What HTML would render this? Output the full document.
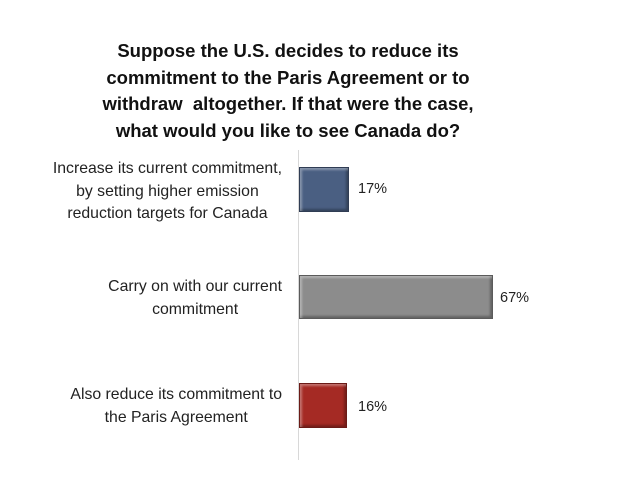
<!DOCTYPE html>
<html><head><style>
body{margin:0;width:620px;height:482px;background:#fff;font-family:"Liberation Sans",sans-serif;position:relative;overflow:hidden}
.t{position:absolute;left:38px;width:500px;top:38px;text-align:center;font-weight:bold;font-size:18.5px;line-height:26.5px;color:#111}
.l{position:absolute;right:338px;text-align:center;font-size:15.8px;line-height:22.5px;color:#222;white-space:nowrap}
.b{position:absolute;left:299px;box-sizing:border-box;border:1px solid rgba(0,0,0,.35);box-shadow:inset 2px 2px 2px rgba(255,255,255,.35),inset -2px -2px 2px rgba(0,0,0,.3)}
.v{position:absolute;font-size:14.5px;color:#222}
</style></head><body>
<div class="t">Suppose the U.S. decides to reduce its<br>commitment to the Paris Agreement or to<br>withdraw&nbsp; altogether. If that were the case,<br>what would you like to see Canada do?</div>
<div style="position:absolute;left:298px;top:150px;width:1px;height:310px;background:#d8d8d8"></div>
<div class="l" style="top:158px">Increase its current commitment,<br>by setting higher emission<br>reduction targets for Canada</div>
<div class="l" style="top:276px">Carry on with our current<br>commitment</div>
<div class="l" style="top:384px">Also reduce its commitment to<br>the Paris Agreement</div>
<div class="b" style="top:167px;width:50px;height:45px;background:#4a5f82"></div>
<div class="b" style="top:275px;width:194px;height:44px;background:#8c8c8c"></div>
<div class="b" style="top:383px;width:48px;height:45px;background:#a52a24"></div>
<div class="v" style="left:358px;top:181px">17%</div>
<div class="v" style="left:500px;top:290px">67%</div>
<div class="v" style="left:358px;top:399px">16%</div>
</body></html>
